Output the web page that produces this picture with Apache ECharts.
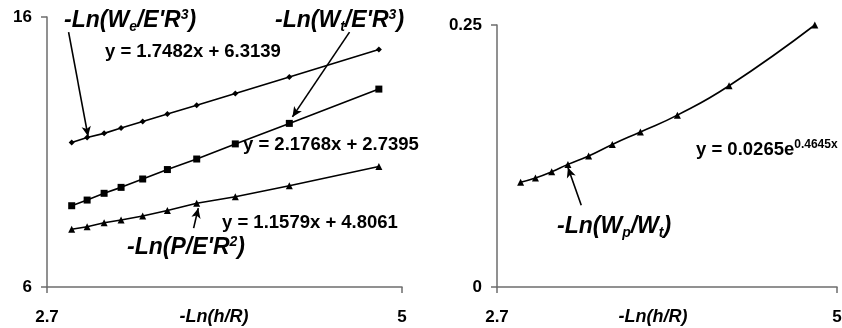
<!DOCTYPE html>
<html>
<head>
<meta charset="utf-8">
<script src="https://cdn.jsdelivr.net/npm/echarts@6/dist/echarts.min.js"></script>
<style>
  html, body { margin: 0; padding: 0; background: #fff; }
  #chart { width: 842px; height: 328px; }
</style>
</head>
<body>
<div id="chart"></div>
<script>
// -Ln(h/R), shared by both panels
var xs = [2.86, 2.96, 3.07, 3.18, 3.32, 3.48, 3.67, 3.92, 4.27, 4.85];
// left panel
var weVals = [11.35, 11.54, 11.69, 11.89, 12.13, 12.41, 12.73, 13.17, 13.78, 14.80];
var wtVals = [9.01, 9.22, 9.47, 9.69, 10.00, 10.35, 10.74, 11.30, 12.06, 13.33];
var pVals = [8.14, 8.23, 8.38, 8.48, 8.63, 8.83, 9.10, 9.34, 9.75, 10.46];
// right panel
var wpVals = [0.100, 0.104, 0.110, 0.117, 0.125, 0.136, 0.148, 0.164, 0.192, 0.250];

var xTicks = [2.7, 5];
var yTicksLeft = [6, 16];
var yTicksRight = [0, 0.25];
var xTitle = '-Ln(h/R)';

// arrow start / end, in data units
var arrowWe = [[2.84, 15.44], [2.966, 11.58]];
var arrowWt = [[4.66, 15.44], [4.29, 12.30]];
var arrowP = [[3.65, 8.18], [3.68, 8.92]];
var arrowWp = [[3.27, 0.078], [3.18, 0.114]];

var FONT = '"Liberation Sans", Arial, sans-serif';

var chart = echarts.init(document.getElementById('chart'), null, {renderer: 'canvas'});

function pts(vals) {
    return xs.map(function (x, i) { return [x, vals[i]]; });
}

function arrow(a) {
    return {
        silent: true,
        animation: false,
        symbol: ['none', 'arrow'],
        symbolSize: [7, 10],
        label: {show: false},
        emphasis: {disabled: true},
        lineStyle: {color: '#000', width: 1.6, type: 'solid'},
        data: [[{coord: a[0]}, {coord: a[1]}]]
    };
}

function xAxisOf(idx) {
    return {
        gridIndex: idx,
        type: 'value',
        min: 2.7,
        max: 5,
        axisLine: {show: true, onZero: false, lineStyle: {color: '#6d6d6d', width: 1.5}},
        axisTick: {show: true, customValues: xTicks, length: 6, lineStyle: {color: '#6d6d6d', width: 1.5}},
        axisLabel: {customValues: xTicks, color: '#000', fontSize: 17, fontWeight: 'bold', fontFamily: FONT, margin: 22},
        splitLine: {show: false}
    };
}

function yAxisOf(idx, min, max, ticks) {
    return {
        gridIndex: idx,
        type: 'value',
        min: min,
        max: max,
        axisLine: {show: true, onZero: false, lineStyle: {color: '#6d6d6d', width: 1.5}},
        axisTick: {show: true, customValues: ticks, length: 6, lineStyle: {color: '#6d6d6d', width: 1.5}},
        axisLabel: {customValues: ticks, color: '#000', fontSize: 17, fontWeight: 'bold', fontFamily: FONT, margin: 15},
        splitLine: {show: false}
    };
}

var big = {fontSize: 23, fontWeight: 'bold', fontStyle: 'italic', fontFamily: FONT, fill: '#000', lineHeight: 26};
var sub = {fontSize: 14, fontWeight: 'bold', fontStyle: 'italic', fontFamily: FONT, fill: '#000', lineHeight: 10, verticalAlign: 'bottom'};
var sup = {fontSize: 14, fontWeight: 'bold', fontStyle: 'italic', fontFamily: FONT, fill: '#000', lineHeight: 10, verticalAlign: 'top'};
var eq = {fontSize: 18.5, fontWeight: 'bold', fontFamily: FONT, fill: '#000', lineHeight: 22};
var eqSup = {fontSize: 12, fontWeight: 'bold', fontFamily: FONT, fill: '#000', lineHeight: 8, verticalAlign: 'top'};
var axt = {fontSize: 18, fontWeight: 'bold', fontStyle: 'italic', fontFamily: FONT, fill: '#000', lineHeight: 20};
var richSet = {a: big, b: sub, c: sup, e: eq, f: eqSup, t: axt};

function label(x, y, text, align) {
    return {
        type: 'text',
        x: x,
        y: y,
        silent: true,
        style: {text: text, rich: richSet, verticalAlign: 'middle', align: align || 'left'}
    };
}

option = {
    animation: false,
    backgroundColor: '#fff',
    grid: [
        {left: 47, right: 440, top: 17, bottom: 41, containLabel: false, outerBoundsMode: 'none'},
        {left: 497, right: 5, top: 25, bottom: 41, containLabel: false, outerBoundsMode: 'none'}
    ],
    xAxis: [xAxisOf(0), xAxisOf(1)],
    yAxis: [yAxisOf(0, 6, 16, yTicksLeft), yAxisOf(1, 0, 0.25, yTicksRight)],
    series: [
        {
            type: 'line', xAxisIndex: 0, yAxisIndex: 0,
            data: pts(weVals),
            symbol: 'diamond', symbolSize: 6,
            itemStyle: {color: '#000'},
            lineStyle: {color: '#000', width: 1.6},
            markLine: arrow(arrowWe)
        },
        {
            type: 'line', xAxisIndex: 0, yAxisIndex: 0,
            data: pts(wtVals),
            symbol: 'rect', symbolSize: 7,
            itemStyle: {color: '#000'},
            lineStyle: {color: '#000', width: 1.6},
            markLine: arrow(arrowWt)
        },
        {
            type: 'line', xAxisIndex: 0, yAxisIndex: 0,
            data: pts(pVals),
            symbol: 'triangle', symbolSize: 7,
            itemStyle: {color: '#000'},
            lineStyle: {color: '#000', width: 1.6},
            markLine: arrow(arrowP)
        },
        {
            type: 'line', xAxisIndex: 1, yAxisIndex: 1,
            data: pts(wpVals),
            smooth: true,
            clip: false,
            symbol: 'triangle', symbolSize: 7,
            itemStyle: {color: '#000'},
            lineStyle: {color: '#000', width: 1.6},
            markLine: arrow(arrowWp)
        }
    ],
    graphic: [
        label(64, 21, '{a|-Ln(W}{b|e}{a|/E\'R}{c|3}{a|)}'),
        label(105, 52, '{e|y = 1.7482x + 6.3139}'),
        label(275, 21, '{a|-Ln(W}{b|t}{a|/E\'R}{c|3}{a|)}'),
        label(243, 145, '{e|y = 2.1768x + 2.7395}'),
        label(222, 223, '{e|y = 1.1579x + 4.8061}'),
        label(127, 248, '{a|-Ln(P/E\'R}{c|2}{a|)}'),
        label(696, 150, '{e|y = 0.0265e}{f|0.4645x}'),
        label(557, 227, '{a|-Ln(W}{b|p}{a|/W}{b|t}{a|)}'),
        label(214, 317, '{t|' + xTitle + '}', 'center'),
        label(653, 317, '{t|' + xTitle + '}', 'center')
    ]
};

chart.setOption(option);
</script>
</body>
</html>
